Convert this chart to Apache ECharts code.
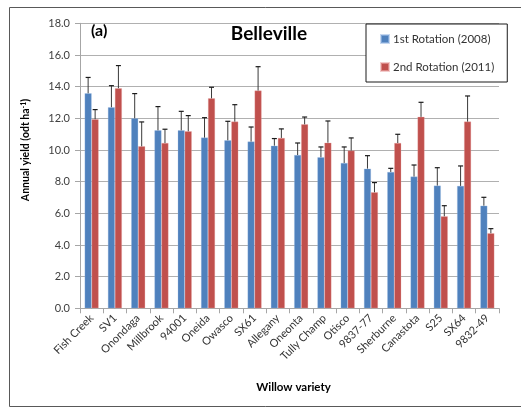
<!DOCTYPE html>
<html>
<head>
<meta charset="utf-8">
<script src="https://cdn.jsdelivr.net/npm/echarts@6/dist/echarts.min.js"></script>
<style>
  html, body { margin: 0; padding: 0; background: #fff; }
  #chart { width: 521px; height: 408px; }
</style>
</head>
<body>
<div id="chart"></div>
<script>
// Willow varieties trialled at Belleville
const varieties = ['Fish Creek', 'SV1', 'Onondaga', 'Millbrook', '94001', 'Oneida', 'Owasco', 'SX61',
  'Allegany', 'Oneonta', 'Tully Champ', 'Otisco', '9837-77', 'Sherburne', 'Canastota', 'S25', 'SX64', '9832-49'];

// Annual yield (odt/ha/yr), first rotation (2008)
const rot1Yield = [13.58, 12.70, 12.00, 11.24, 11.24, 10.78, 10.61, 10.53, 10.27, 9.68, 9.54, 9.18, 8.82, 8.61, 8.32, 7.75, 7.73, 6.48];
const rot1Err   = [1.00, 1.36, 1.56, 1.50, 1.20, 1.26, 1.20, 0.92, 0.45, 0.76, 0.65, 1.01, 0.82, 0.23, 0.73, 1.13, 1.26, 0.53];

// Annual yield (odt/ha/yr), second rotation (2011)
const rot2Yield = [11.94, 13.90, 10.23, 10.44, 11.18, 13.26, 11.79, 13.75, 10.76, 11.62, 10.46, 9.96, 7.33, 10.44, 12.09, 5.81, 11.79, 4.74];
const rot2Err   = [0.61, 1.43, 1.54, 0.87, 0.99, 0.70, 1.07, 1.51, 0.57, 0.46, 1.37, 0.80, 0.61, 0.55, 0.92, 0.67, 1.62, 0.29];

const yTicks = { min: 0, max: 18, step: 2 };

const seriesNames = ['1st Rotation (2008)', '2nd Rotation (2011)'];
const BLUE = '#4F81BD';
const RED = '#C0504D';
const FONT = 'Lato, "Open Sans", sans-serif';
const BAR_W = 7;

// Upward error whisker with a cap, shifted onto its own bar of the pair
function errorBars(values, errs, shift) {
  return {
    type: 'custom',
    silent: true,
    z: 5,
    data: values.map((v, i) => [i, v, v + errs[i]]),
    renderItem: function (params, api) {
      const base = api.coord([api.value(0), api.value(1)]);
      const top = api.coord([api.value(0), api.value(2)]);
      const x = base[0] + shift;
      const cap = 2.5;
      return {
        type: 'group',
        children: [
          { type: 'line', shape: { x1: x, y1: base[1], x2: x, y2: top[1] },
            style: { stroke: '#3a3a3a', lineWidth: 1 } },
          { type: 'line', shape: { x1: x - cap, y1: top[1], x2: x + cap, y2: top[1] },
            style: { stroke: '#1a1a1a', lineWidth: 1.2 } }
        ]
      };
    }
  };
}

const chart = echarts.init(document.getElementById('chart'), null, { renderer: 'canvas' });

chart.setOption({
  animation: false,
  textStyle: { fontFamily: FONT },
  grid: { left: 80, right: 22, top: 23.3, bottom: 99.7, containLabel: false },
  title: {
    text: 'Belleville',
    left: 264, top: 19, textAlign: 'center',
    textStyle: { fontFamily: FONT, fontSize: 19, fontWeight: 'bold', color: '#000' }
  },
  legend: {
    orient: 'vertical',
    left: 366, top: 24,
    padding: [9, 13, 9, 14],
    itemGap: 16,
    itemWidth: 8, itemHeight: 8,
    icon: 'rect',
    borderColor: '#1a1a1a', borderWidth: 1,
    backgroundColor: '#fff',
    textStyle: { fontFamily: FONT, fontSize: 11.5, color: '#333', padding: [0, 0, 0, -1] },
    data: seriesNames
  },
  xAxis: {
    type: 'category',
    data: varieties,
    boundaryGap: true,
    name: 'Willow variety',
    nameLocation: 'middle',
    nameGap: 73,
    nameTextStyle: { fontFamily: FONT, fontSize: 11.5, fontWeight: 'bold', color: '#000', padding: [0, 0, 0, 8] },
    axisLine: { lineStyle: { color: '#a6a6a6', width: 1 } },
    axisTick: { show: true, inside: false, length: 5, alignWithLabel: false, lineStyle: { color: '#a6a6a6' } },
    axisLabel: { rotate: 45, interval: 0, margin: 8, fontSize: 11, color: '#333', fontFamily: FONT }
  },
  yAxis: {
    type: 'value',
    min: yTicks.min, max: yTicks.max, interval: yTicks.step,
    axisLine: { show: true, lineStyle: { color: '#a6a6a6', width: 1 } },
    axisTick: { show: true, inside: false, length: 5, lineStyle: { color: '#a6a6a6' } },
    axisLabel: { margin: 10, fontSize: 11, color: '#404040', fontFamily: FONT,
      formatter: v => v.toFixed(1) },
    splitLine: { show: true, lineStyle: { color: '#b0b0b0', width: 1 } }
  },
  series: [
    { name: seriesNames[0], type: 'bar', data: rot1Yield, barWidth: BAR_W, barGap: '0%',
      itemStyle: { color: BLUE, borderColor: 'rgba(160,190,230,0.6)', borderWidth: 0.5 }, z: 3 },
    { name: seriesNames[1], type: 'bar', data: rot2Yield, barWidth: BAR_W, barGap: '0%',
      itemStyle: { color: RED, borderColor: 'rgba(235,170,170,0.6)', borderWidth: 0.5 }, z: 3 },
    errorBars(rot1Yield, rot1Err, -BAR_W / 2),
    errorBars(rot2Yield, rot2Err, BAR_W / 2)
  ],
  graphic: [
    // outer frame of the figure
    { type: 'rect', silent: true, z: -1,
      shape: { x: 9.5, y: 7.5, width: 530, height: 399 },
      style: { fill: 'none', stroke: '#595959', lineWidth: 1 } },
    // panel tag
    { type: 'text', left: 91, top: 23,
      style: { text: '(a)', fontFamily: FONT, fontSize: 16, fontWeight: 'bold', fill: '#000' } },
    // y-axis title with superscript unit exponent
    { type: 'text', x: 26, y: 150, rotation: Math.PI / 2,
      style: {
        text: '{b|Annual yield (odt ha}{s|-1}{b|)}',
        align: 'center', verticalAlign: 'middle',
        rich: {
          b: { fontFamily: FONT, fontSize: 10.5, fontWeight: 'bold', fill: '#000' },
          s: { fontFamily: FONT, fontSize: 7, fontWeight: 'bold', fill: '#000', verticalAlign: 'top', padding: [0, 0, 5, 0] }
        }
      } }
  ]
});
</script>
</body>
</html>
